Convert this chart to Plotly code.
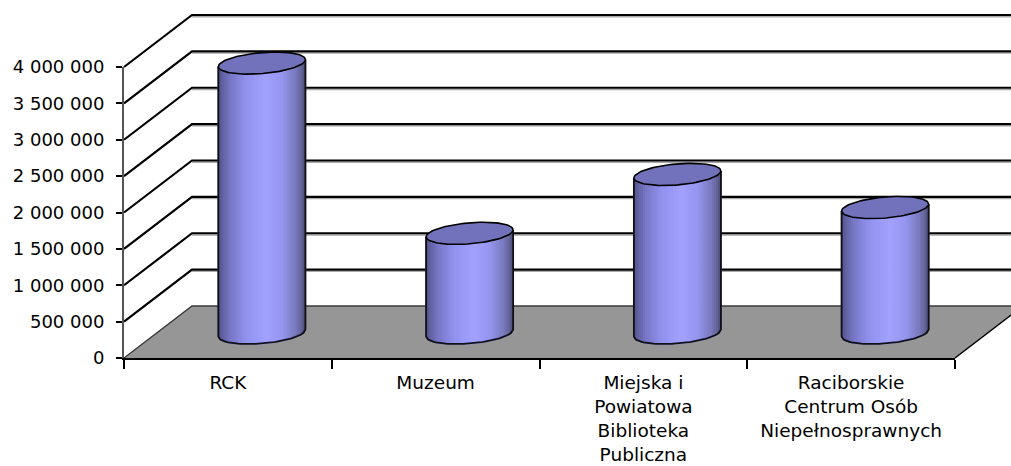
import numpy as np
import plotly.graph_objects as go

# --- data ---
categories = ["RCK", "Muzeum", "Miejska i<br>Powiatowa<br>Biblioteka<br>Publiczna",
              "Raciborskie<br>Centrum Osób<br>Niepełnosprawnych"]
values = [3710000, 1370000, 2180000, 1725000]
tick_vals = [0, 500000, 1000000, 1500000, 2000000, 2500000, 3000000, 3500000, 4000000]
tick_text = ["0", "500 000", "1 000 000", "1 500 000", "2 000 000", "2 500 000",
             "3 000 000", "3 500 000", "4 000 000"]

# --- page geometry ---
W, H = 1011, 466
LEFT, RIGHT, BASE, TOP = 124, 955, 358, 67
px_x = (RIGHT - LEFT) / len(categories)          # pixels per category
px_y = (BASE - TOP) / tick_vals[-1]              # pixels per value unit
X0 = -0.5
x_range = [X0 - LEFT / px_x, X0 + (W - LEFT) / px_x]
y_range = [-(H - BASE) / px_y, BASE / px_y]

# oblique depth of the fake 3D box
DX, DY = 68 / px_x, 52 / px_y
CX, CY = DX / 2, (25 / px_y)
RX = 43.5 / px_x
SHEAR, RY = 3.5 / px_y, 10.5 / px_y

STOPS_U = [0, .05, .14, .32, .56, .74, .90, .97, 1]
STOPS_C = np.array([[78, 78, 130], [96, 96, 160], [118, 118, 196], [146, 146, 238], [162, 162, 255],
                    [150, 150, 240], [122, 122, 190], [98, 98, 150], [80, 80, 125]])


def shade(u):
    c = [np.interp(u, STOPS_U, STOPS_C[:, i]) for i in range(3)]
    return "rgb(%d,%d,%d)" % tuple(c)


fig = go.Figure()


def poly(x, y, fill=None, line="rgba(0,0,0,0)", width=0):
    fig.add_trace(go.Scatter(
        x=list(x), y=list(y), mode="lines",
        line=dict(color=line, width=width),
        fill="toself" if fill else "none", fillcolor=fill,
        hoverinfo="skip", showlegend=False, xaxis="x", yaxis="y"))


FAR = x_range[1] + 1
x_end = X0 + len(categories)

# floor
poly([X0, X0 + DX, x_end + DX, x_end, X0], [0, DY, DY, 0, 0], fill="#969696")
poly([x_end, x_end + DX], [0, DY], line="#000000", width=1.5)

# wall grid lines
for v in tick_vals:
    if v:
        poly([X0 + DX, FAR], [v + DY - 1.8 / px_y] * 2, line="#a8a8a8", width=1.4)
    poly([X0, X0 + DX, FAR], [v, v + DY, v + DY],
         line="#000000" if v else "#3a3a3a", width=2.2 if v else 1.4)

# cylinders
NS = 44
for i, v in enumerate(values):
    cx = X0 + i + 0.5 + CX
    us = np.linspace(0, 1, NS + 1)
    ts = np.arccos(2 * us - 1)          # angle on the front half
    ex = cx + RX * (2 * us - 1)
    ey = CY + SHEAR * (2 * us - 1) - RY * np.sin(ts)
    for k in range(NS):
        xs = [ex[k], ex[k + 1], ex[k + 1], ex[k], ex[k]]
        ys = [ey[k], ey[k + 1], ey[k + 1] + v, ey[k] + v, ey[k]]
        col = shade((us[k] + us[k + 1]) / 2)
        poly(xs, ys, fill=col, line=col, width=1.6)
    # silhouette
    poly([ex[0]] + list(ex) + [ex[-1]],
         [ey[0] + v] + list(ey) + [ey[-1] + v], line="#101018", width=1.8)
    # top ellipse
    tt = np.linspace(0, 2 * np.pi, 90)
    poly(cx + RX * np.cos(tt), CY + v + SHEAR * np.cos(tt) + RY * np.sin(tt),
         fill="#7272bc", line="#000000", width=1.6)

# real axes: invisible bars carry the categories and the value scale
fig.add_trace(go.Bar(x=categories, y=values, xaxis="x2", yaxis="y2",
                     marker=dict(opacity=0), hoverinfo="skip", showlegend=False))

FONT_X = dict(family="DejaVu Sans, sans-serif", size=18.5, color="#000000")
FONT_Y = dict(family="DejaVu Sans, sans-serif", size=18, color="#000000")
fig.update_layout(
    width=W, height=H, margin=dict(l=0, r=0, t=0, b=0),
    paper_bgcolor="#ffffff", plot_bgcolor="rgba(0,0,0,0)", showlegend=False,
    xaxis=dict(domain=[0, 1], range=x_range, visible=False, fixedrange=True),
    yaxis=dict(domain=[0, 1], range=y_range, visible=False, fixedrange=True),
    xaxis2=dict(domain=[LEFT / W, RIGHT / W], anchor="y2", type="category",
                categoryorder="array", categoryarray=categories,
                range=[-0.5, len(categories) - 0.5], tickson="boundaries",
                ticks="outside", ticklen=9, tickwidth=1.5, tickcolor="#000000",
                showline=True, linecolor="#000000", linewidth=2,
                showgrid=False, zeroline=False, tickfont=FONT_X, ticklabelstandoff=7,
                tickangle=0, automargin=False, fixedrange=True),
    yaxis2=dict(domain=[(H - BASE) / H, (H - TOP) / H], anchor="x2",
                range=[0, tick_vals[-1]], tickvals=tick_vals, ticktext=tick_text,
                ticks="outside", ticklen=6, tickwidth=1.5, tickcolor="#000000",
                showline=True, linecolor="#555555", linewidth=2,
                showgrid=False, zeroline=False, tickfont=FONT_Y, ticklabelstandoff=8,
                automargin=False, fixedrange=True),
)
fig.write_html("out.html", config={"displayModeBar": False},
               post_script="document.body.style.margin='0';document.body.style.overflow='hidden';")
